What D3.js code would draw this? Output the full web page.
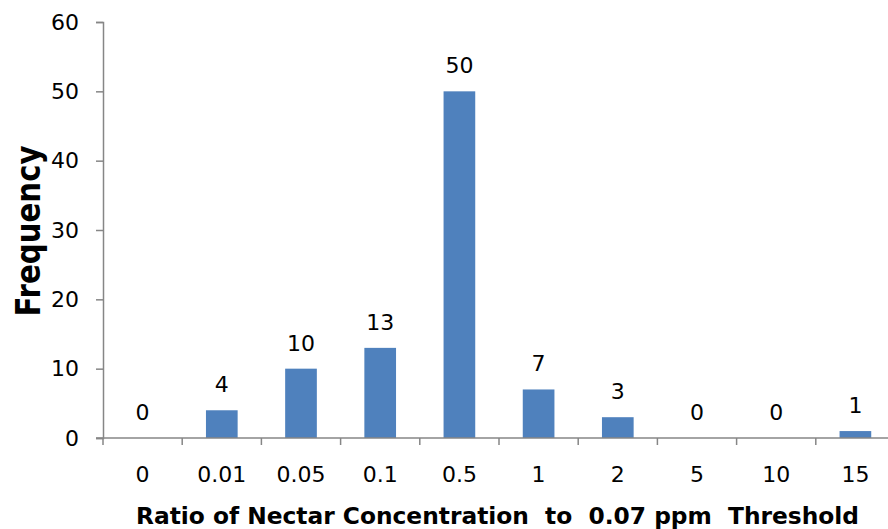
<!DOCTYPE html>
<html>
<head>
<meta charset="utf-8">
<script src="https://cdn.jsdelivr.net/npm/d3@7"></script>
<style>
  body { margin: 0; background: #fff; }
  svg { display: block; }
  text { font-family: "DejaVu Sans", sans-serif; fill: #000; }
</style>
</head>
<body>
<div id="chart"></div>
<script>
// ratio categories and how many samples fell in each
var categories = ['0', '0.01', '0.05', '0.1', '0.5', '1', '2', '5', '10', '15'];
var frequency = [0, 4, 10, 13, 50, 7, 3, 0, 0, 1];
var yTicks = [0, 10, 20, 30, 40, 50, 60];

var w = 888;
var h = 529;
var padLeft = 103;
var padTop = 22;
var plotH = 416;

var svg = d3.select('#chart').append('svg')
  .attr('width', w)
  .attr('height', h);

var x = d3.scaleBand().domain(categories).range([padLeft, padLeft + 79.2 * 10]).paddingInner(0.6).paddingOuter(0.3);
var band = d3.scaleBand().domain(categories).range([padLeft, padLeft + 79.2 * 10]);
var y = d3.scaleLinear().domain([0, 60]).range([padTop + plotH, padTop]);

// bars
svg.selectAll('rect.bar')
  .data(frequency)
  .enter()
  .append('rect')
  .attr('class', 'bar')
  .attr('x', function (d, i) { return x(categories[i]); })
  .attr('width', x.bandwidth())
  .attr('y', function (d) { return y(d); })
  .attr('height', function (d) { return y(0) - y(d); })
  .attr('fill', '#4f81bd');

// value labels
svg.selectAll('text.val')
  .data(frequency)
  .enter()
  .append('text')
  .attr('class', 'val')
  .attr('x', function (d, i) { return band(categories[i]) + band.bandwidth() / 2; })
  .attr('y', function (d) { return y(d) - 18; })
  .attr('text-anchor', 'middle')
  .style('font-size', '22px')
  .text(function (d) { return d; });

// y axis
var yAxis = d3.axisLeft(y).tickValues(yTicks).tickSize(7).tickPadding(17);
var gy = svg.append('g').attr('transform', 'translate(' + padLeft + ',0)').call(yAxis);
gy.select('.domain').attr('stroke', '#868686').attr('stroke-width', 1.5);
gy.selectAll('.tick line').attr('stroke', '#868686').attr('stroke-width', 1.5);
gy.selectAll('.tick text').style('font-size', '22px').style('font-family', '"DejaVu Sans", sans-serif').attr('fill', '#000');

// x axis: ticks on band boundaries
var gx = svg.append('g').attr('transform', 'translate(0,' + y(0) + ')');
gx.append('line')
  .attr('x1', padLeft - 7).attr('x2', w)
  .attr('stroke', '#868686').attr('stroke-width', 1.5);
gx.selectAll('line.tk')
  .data(categories)
  .enter()
  .append('line')
  .attr('class', 'tk')
  .attr('x1', function (d) { return band(d); })
  .attr('x2', function (d) { return band(d); })
  .attr('y2', 7)
  .attr('stroke', '#868686').attr('stroke-width', 1.5);
gx.selectAll('text')
  .data(categories)
  .enter()
  .append('text')
  .attr('x', function (d) { return band(d) + band.bandwidth() / 2; })
  .attr('y', 44)
  .attr('text-anchor', 'middle')
  .style('font-size', '22px')
  .text(function (d) { return d; });

// axis titles
svg.append('text')
  .attr('x', 497.5)
  .attr('y', 524)
  .attr('text-anchor', 'middle')
  .attr('textLength', 723)
  .attr('lengthAdjust', 'spacingAndGlyphs')
  .style('font-size', '23.5px')
  .style('font-weight', 'bold')
  .style('white-space', 'pre')
  .text('Ratio of Nectar Concentration  to  0.07 ppm  Threshold');

svg.append('text')
  .attr('transform', 'translate(39.5,231) rotate(-90)')
  .attr('text-anchor', 'middle')
  .attr('textLength', 171)
  .attr('lengthAdjust', 'spacingAndGlyphs')
  .style('font-size', '34px')
  .style('font-weight', 'bold')
  .text('Frequency');
</script>
</body>
</html>
